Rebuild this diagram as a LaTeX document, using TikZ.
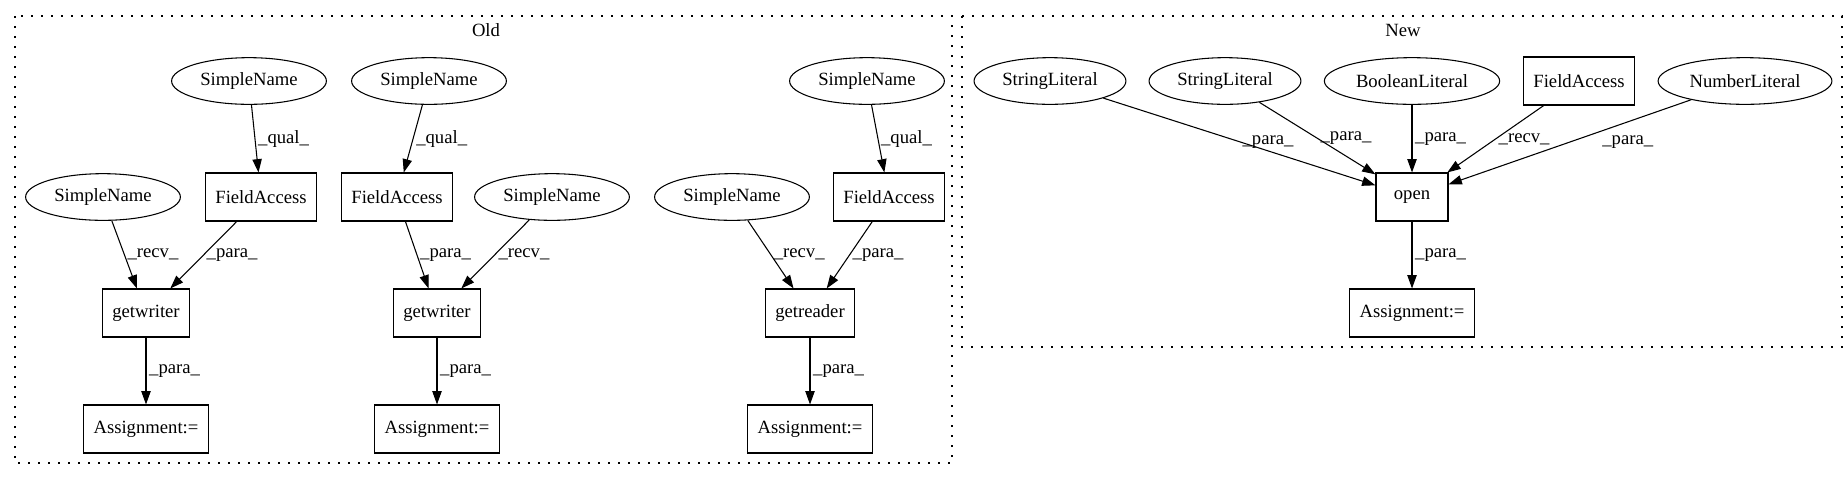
\documentclass[tikz,border=0pt]{standalone}
\usepackage{fontspec}
\setmainfont{Liberation Serif}
\usetikzlibrary{shapes.geometric,arrows.meta}
\begin{document}
\begin{tikzpicture}[x=0.75pt, y=-0.75pt, line width=0.8pt,
    font=\fontsize{14pt}{16pt}\selectfont,
    oval/.style={draw, ellipse, minimum height=35pt, minimum width=54pt, inner xsep=4.5pt},
    box/.style={draw, rectangle, minimum height=36pt, minimum width=54pt, inner xsep=7.5pt},
    lbl/.style={right, inner sep=2pt},
    link/.style={-{Triangle[length=10pt,width=7pt]}},
    cluster/.style={dash pattern=on 1.5pt off 6pt, line width=1pt}]
  \useasboundingbox (0, 0) rectangle (1845, 480);
  \draw[cluster] (15, 16) rectangle (952, 463);
  \draw[cluster] (962, 16) rectangle (1842, 347);
  \node (old) at (486, 30) {Old};
  \node (new) at (1403, 30) {New};

  \node[oval] (sn1) at (249, 81) {SimpleName};
  \node[oval] (sn2) at (429, 81) {SimpleName};
  \node[oval] (sn3) at (867, 81) {SimpleName};
  \node[oval] (sn4) at (103, 197) {SimpleName};
  \node[box]  (fa1) at (261, 197) {FieldAccess};
  \node[box]  (fa2) at (397, 197) {FieldAccess};
  \node[oval] (sn5) at (552, 197) {SimpleName};
  \node[oval] (sn6) at (732, 197) {SimpleName};
  \node[box]  (fa3) at (889, 197) {FieldAccess};
  \node[box]  (gw1) at (146, 313) {getwriter};
  \node[box]  (gw2) at (437, 313) {getwriter};
  \node[box]  (gr)  at (810, 313) {getreader};
  \node[box]  (as1) at (146, 429) {Assignment:=};
  \node[box]  (as2) at (437, 429) {Assignment:=};
  \node[box]  (as3) at (810, 429) {Assignment:=};

  \node[oval] (sl1) at (1050, 81) {StringLiteral};
  \node[oval] (sl2) at (1225, 81) {StringLiteral};
  \node[oval] (bl)  at (1412, 81) {BooleanLiteral};
  \node[box]  (fa4) at (1579, 81) {FieldAccess};
  \node[oval] (nl)  at (1745, 81) {NumberLiteral};
  \node[box]  (op)  at (1412, 197) {open};
  \node[box]  (as4) at (1412, 313) {Assignment:=};

  \draw[link] (sn1) edge node[lbl] {\_qual\_} (fa1)
              (sn2) edge node[lbl] {\_qual\_} (fa2)
              (sn3) edge node[lbl] {\_qual\_} (fa3)
              (sn4) edge node[lbl] {\_recv\_} (gw1)
              (fa1) edge node[lbl] {\_para\_} (gw1)
              (fa2) edge node[lbl] {\_para\_} (gw2)
              (sn5) edge node[lbl] {\_recv\_} (gw2)
              (sn6) edge node[lbl] {\_recv\_} (gr)
              (fa3) edge node[lbl] {\_para\_} (gr)
              (gw1) edge node[lbl] {\_para\_} (as1)
              (gw2) edge node[lbl] {\_para\_} (as2)
              (gr)  edge node[lbl] {\_para\_} (as3);
  \draw[link] (sl1) edge node[lbl] {\_para\_} (op)
              (sl2) edge node[lbl] {\_para\_} (op)
              (bl)  edge node[lbl] {\_para\_} (op)
              (fa4) edge node[lbl] {\_recv\_} (op)
              (nl)  edge node[lbl, xshift=22pt] {\_para\_} (op)
              (op)  edge node[lbl] {\_para\_} (as4);
\end{tikzpicture}
\end{document}
